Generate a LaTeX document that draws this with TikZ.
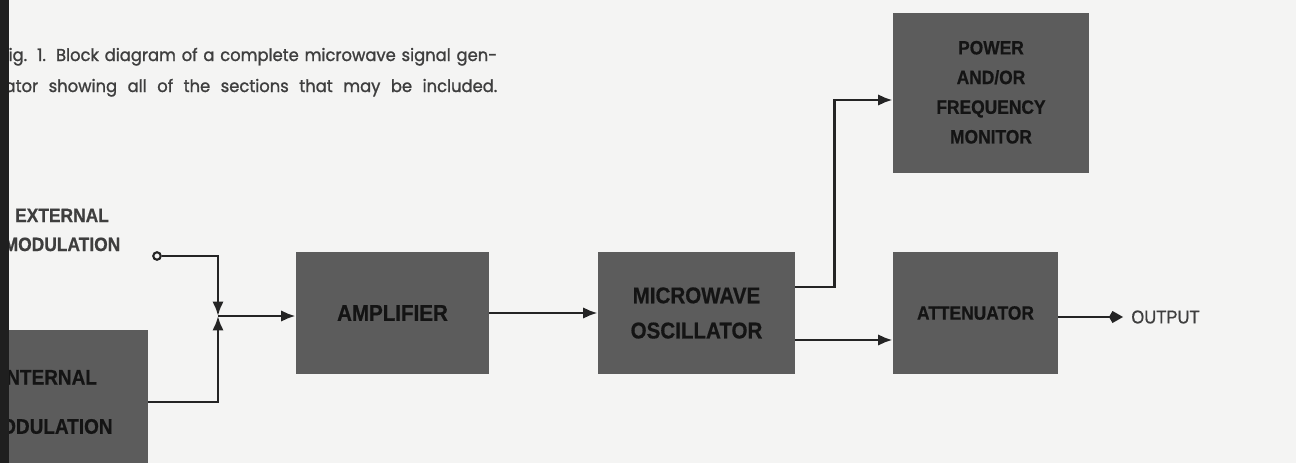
\documentclass[tikz,border=0pt]{standalone}
\usepackage{fontspec}
\setmainfont{Liberation Sans}
\newfontfamily\blkfont[FakeStretch=0.9,FakeBold=0.6]{Liberation Sans}
\newfontfamily\capfont[FakeStretch=0.95,FakeBold=1.2]{Poppins}
\usetikzlibrary{arrows.meta}
\definecolor{paper}{HTML}{F4F4F3}
\definecolor{boxgray}{HTML}{5C5C5C}
\definecolor{ink}{HTML}{141414}
\definecolor{wirec}{HTML}{242424}
\definecolor{capink}{HTML}{3E3E3E}

\begin{document}
\begin{tikzpicture}[x=0.02cm,y=-0.02cm,
  blk/.style={fill=boxgray,text=ink,inner sep=0pt,align=center,font=\blkfont\bfseries\fontsize{13}{20}\selectfont},
  small/.style={font=\blkfont\bfseries\fontsize{11}{16.9}\selectfont},
  lbl/.style={text=capink,inner sep=0pt,align=center,font=\blkfont\bfseries\fontsize{11}{16.5}\selectfont},
  wire/.style={draw=wirec,line width=1.6pt,-{Latex[length=2.9mm,width=2.3mm]}}]
  \useasboundingbox (0,0) rectangle (1296,463);
  \clip (0,0) rectangle (1296,463);
  \fill[paper] (0,0) rectangle (1296,463);

  % caption
  \node[anchor=base west,inner sep=0pt,text=capink,font=\capfont\fontsize{9.8}{12}\selectfont] (cap1) at (0,61)
    {\makebox[9.94cm][s]{Fig. 1. Block diagram of a complete microwave signal gen-}};
  \node[anchor=base west,inner sep=0pt,text=capink,font=\capfont\fontsize{9.8}{12}\selectfont] (cap2) at (-12,92)
    {\makebox[10.18cm][s]{erator showing all of the sections that may be included.}};

  % inputs
  \node[lbl] (extlbl) at (62,230) {EXTERNAL\\MODULATION};
  \node[draw=wirec,line width=1.2pt,circle,inner sep=0pt,minimum size=0.15cm,fill=paper] (ext) at (157,256) {};
  \node[blk,minimum width=3.96cm,minimum height=2.88cm,font=\blkfont\bfseries\fontsize{12}{28}\selectfont] (intmod) at (49,402) {INTERNAL\\MODULATION};
  \coordinate (jn) at (218,316);

  % blocks
  \node[blk,minimum width=3.86cm,minimum height=2.44cm] (amp) at (392.5,313) {AMPLIFIER};
  \node[blk,minimum width=3.94cm,minimum height=2.44cm] (osc) at (696.5,313) {MICROWAVE\\OSCILLATOR};
  \node[blk,small,minimum width=3.3cm,minimum height=2.44cm] (att) at (975.5,313) {ATTENUATOR};
  \node[blk,small,minimum width=3.92cm,minimum height=3.2cm] (mon) at (991,93) {\raisebox{-.14cm}{\begin{tabular}{@{}c@{}}POWER\\AND/OR\\FREQUENCY\\MONITOR\end{tabular}}};
  \node[anchor=west,inner sep=0pt,text=capink,font=\blkfont\fontsize{10.5}{12}\selectfont] (out) at (1131,317) {OUTPUT};

  % connectors
  \draw[wire] (ext.east) -| (jn);
  \draw[wire] (intmod.east) -| (jn);
  \draw[wire] (jn) -- (jn -| amp.west);
  \draw[wire] (amp.east) -- (osc.west);
  \coordinate (o1) at ([yshift=.52cm]osc.east);
  \coordinate (o2) at ([yshift=-.54cm]osc.east);
  \draw[wire] (o1) -- ++(39,0) |- ([yshift=-.14cm]mon.west);
  \draw[wire] (o2) -- (o2 -| att.west);
  \draw[draw=wirec,line width=1pt,-{Kite[length=2.8mm,width=2.4mm]}] (att.east |- out.west) -- ([xshift=-.16cm]out.west);

  % scan edge
  \fill[black!88] (0,0) rectangle (9,463);
\end{tikzpicture}
\end{document}
